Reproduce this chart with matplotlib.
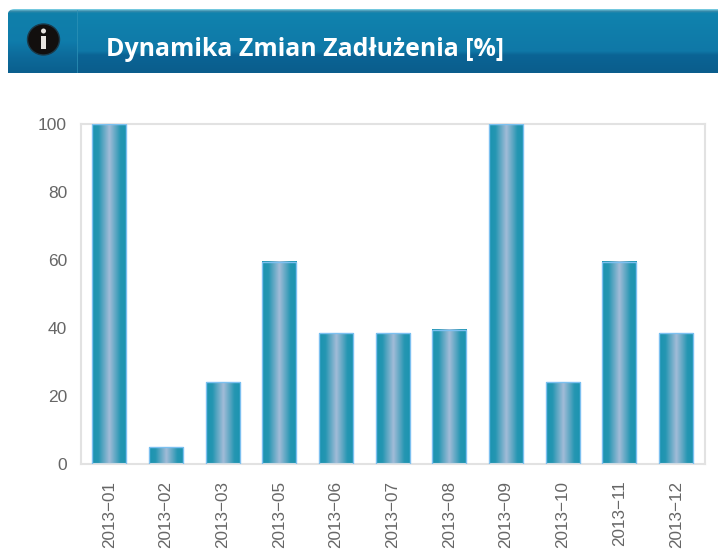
import numpy as np
import matplotlib
matplotlib.use("Agg")
import matplotlib.pyplot as plt
from matplotlib.colors import LinearSegmentedColormap
from matplotlib.patches import FancyBboxPatch, Rectangle, Ellipse

categories = ["2013-01", "2013-02", "2013-03", "2013-05", "2013-06", "2013-07",
              "2013-08", "2013-09", "2013-10", "2013-11", "2013-12"]
values = [100, 5, 24, 59.5, 38.5, 38.5, 39.5, 100, 24, 59.5, 38.5]
y_ticks = [0, 20, 40, 60, 80, 100]
title = "Dynamika Zmian Zadłużenia [%]"

W, H = 718, 549
fig = plt.figure(figsize=(W / 100, H / 100), dpi=100, facecolor="white")

# header band, in pixel coordinates
bg = fig.add_axes([0, 0, 1, 1], zorder=0)
bg.set_xlim(0, W)
bg.set_ylim(H, 0)
bg.axis("off")
clip = FancyBboxPatch((7.5, 9), W + 30, 90, boxstyle="round,pad=0,rounding_size=7",
                      transform=bg.transData, fc="none", ec="none")
bg.add_patch(clip)
left_stops = [(0.0, "#7fd4e8"), (0.03, "#3a8aa8"), (0.06, "#1080aa"), (0.5, "#0f7cab"),
              (0.75, "#0d6a9a"), (1.0, "#0a5f8e")]
right_stops = [(0.0, "#7fd4e8"), (0.03, "#3a8aa8"), (0.06, "#1083ae"), (0.66, "#0f78a7"),
               (0.72, "#0b6495"), (1.0, "#0a5d8c")]
grad = np.linspace(0, 1, 128).reshape(-1, 1)
for x0, x1, st in [(7.5, 78, left_stops), (78, W, right_stops)]:
    im = bg.imshow(grad, cmap=LinearSegmentedColormap.from_list("hdr", st),
                   extent=(x0, x1, 73, 9), aspect="auto", zorder=1)
    im.set_clip_path(clip)
bg.add_patch(Rectangle((77, 10), 1.2, 63, fc="#2f93b8", ec="none", alpha=0.7, zorder=2))
bg.add_patch(Ellipse((43.5, 39.5), 32, 31, fc="#120f0e", ec="#1b3a4a", lw=1, zorder=3))
bg.add_patch(Ellipse((43.5, 31), 5, 5, fc="#e8e4e0", ec="none", zorder=4))
bg.add_patch(Rectangle((41.2, 35.5), 4.6, 13, fc="#e8e4e0", ec="none", zorder=4))
bg.set_xlim(0, W)
bg.set_ylim(H, 0)
bg.text(106.5, 50, title, color="white", fontsize=17.9, fontweight="bold",
        family="Open Sans", ha="left", va="center", zorder=4)

# chart
L, R, T, B = 81, 704.5, 124, 464
ax = fig.add_axes([L / W, 1 - B / H, (R - L) / W, (B - T) / H], zorder=1)
ax.set_facecolor("white")
x = np.arange(len(categories))
bars = ax.bar(x, values, width=0.6, facecolor="none", edgecolor="#7cc0f0", linewidth=1, zorder=3)
bar_cmap = LinearSegmentedColormap.from_list(
    "bar", [(0, "#1b93b0"), (0.18, "#2596b2"), (0.5, "#a3bcd8"), (0.82, "#2596b2"), (1, "#1b93b0")])
hgrad = np.linspace(0, 1, 64).reshape(1, -1)
for b in bars:
    ax.imshow(hgrad, cmap=bar_cmap, aspect="auto", zorder=2,
              extent=(b.get_x(), b.get_x() + b.get_width(), 0, b.get_height()))
ax.set_xlim(-0.5, len(categories) - 0.5)
ax.set_ylim(0, 100)
ax.set_xticks(x)
ax.set_xticklabels([c.replace("-", "\u2212") for c in categories], rotation=90,
                   family="Liberation Sans", fontsize=12.3, color="#666666", va="top", ha="center")
ax.set_yticks(y_ticks)
ax.set_yticklabels([str(v) for v in y_ticks], family="Liberation Sans", fontsize=12.5, color="#666666")
ax.tick_params(axis="both", length=0)
ax.tick_params(axis="x", pad=12)
ax.tick_params(axis="y", pad=10)
for s in ax.spines.values():
    s.set_color("#e2e2e2")
    s.set_linewidth(1.5)

fig.savefig("out.png", dpi=100, facecolor="white")
